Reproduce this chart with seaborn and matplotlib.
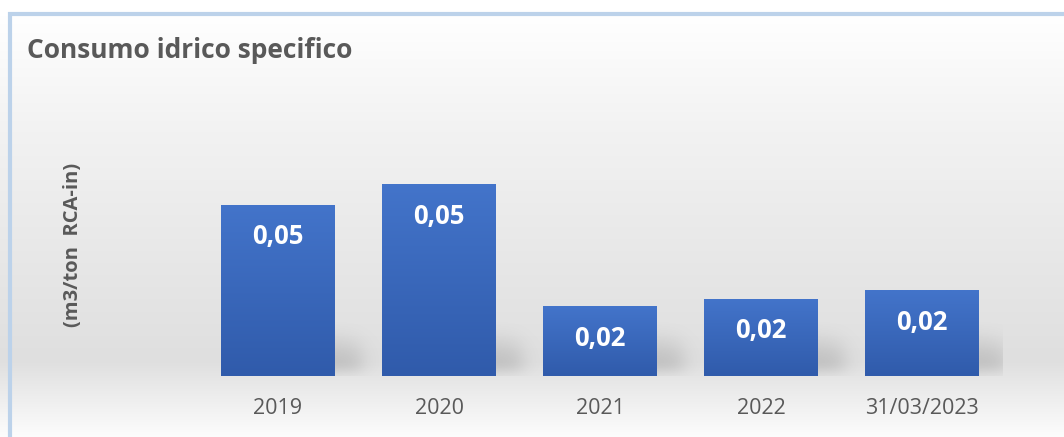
import numpy as np
import pandas as pd
import matplotlib
matplotlib.use("Agg")
import matplotlib.pyplot as plt
import seaborn as sns
from matplotlib.colors import to_rgb

# ---- data ----
categories = ["2019", "2020", "2021", "2022", "31/03/2023"]
values = [0.046, 0.0515, 0.0188, 0.0207, 0.0231]
title = "Consumo idrico specifico"
ylabel = "(m3/ton  RCA-in)"

sns.set_theme(style="white")
plt.rcParams['font.family'] = ['Open Sans', 'DejaVu Sans']

W, H = 1064, 437
fig = plt.figure(figsize=(W / 100, H / 100), dpi=100)
fig.patch.set_facecolor("white")

# ---- background gradient ----
bg = fig.add_axes([0, 0, 1, 1], zorder=0)
stops_y = np.array([0, 15, 120, 250, 360, 437])
stops_c = np.array([255, 255, 243, 232, 223, 253]) / 255.0
ys = np.arange(H)
g = np.interp(ys, stops_y, stops_c)
img = np.repeat(g[:, None], W, axis=1)
img = np.dstack([img, img, img])
bg.imshow(img, extent=[0, W, H, 0], aspect="auto", interpolation="bilinear")
bg.set_xlim(0, W); bg.set_ylim(H, 0)
bg.axis("off")
# border
border = "#bcd2ea"
bg.plot([9.5, 9.5], [12, H + 5], color=border, lw=3, solid_capstyle="butt")
bg.plot([8, W + 5], [13.5, 13.5], color=border, lw=3, solid_capstyle="butt")

# ---- main axes ----
left_px, right_px = 197.5, 1002.5
bottom_px = 376
ymax = 0.06
px_per_unit = 3720
top_px = bottom_px - ymax * px_per_unit
ax = fig.add_axes([left_px / W, (H - bottom_px) / H, (right_px - left_px) / W,
                   (bottom_px - top_px) / H], zorder=2)
ax.patch.set_alpha(0)

df = pd.DataFrame({"cat": categories, "val": values})
sns.barplot(data=df, x="cat", y="val", ax=ax, color="#3a67bb", width=0.708,
            saturation=1, linewidth=0, zorder=3)

xpx = (right_px - left_px) / 5.0  # pixels per x unit

top_c = np.array(to_rgb("#4374ca"))
bot_c = np.array(to_rgb("#305bab"))
sig = lambda d, s: 1 / (1 + np.exp(-d / s))
for p in list(ax.patches):
    x0 = p.get_x(); w = p.get_width(); h = p.get_height()
    x1 = x0 + w
    # soft shadow cast to the back-right
    sw_px, sh_px = 70, 60
    nx, ny = 200, 120
    ex0, ex1 = x1 - 20 / xpx, x1 + sw_px / xpx
    ey1 = sh_px / px_per_unit
    X, Y = np.meshgrid(np.linspace(ex0, ex1, nx), np.linspace(0, ey1, ny))
    dx = (X - x1) * xpx
    dy = Y * px_per_unit
    a = sig(26 - dx, 6) * sig(dy - 6, 4) * sig(44 - dy - dx * 0.2, 7)
    a = a * 0.38 * np.clip(1 - dy / 58, 0, 1)
    sh = np.zeros((ny, nx, 4)); sh[..., 0:3] = 0.45; sh[..., 3] = a
    ax.imshow(sh, extent=[ex0, ex1, 0, ey1], origin="lower", aspect="auto",
              zorder=1, interpolation="bilinear")
    # gradient fill
    t = np.linspace(0, 1, 64)[:, None]
    col = bot_c[None, :] * (1 - t) + top_c[None, :] * t
    grad = np.repeat(col[:, None, :], 2, axis=1)
    im = ax.imshow(grad, extent=[x0, x1, 0, h], origin="lower", aspect="auto",
                   zorder=3.5, interpolation="bilinear")
    im.set_clip_path(p)

for i, v in enumerate(values):
    ax.annotate(f"{v:.2f}".replace(".", ","), xy=(i, v), xytext=(0, -23),
                textcoords="offset points", ha="center", va="center",
                color="white", fontsize=18.5, fontweight="bold", zorder=5)

ax.set_xlim(-0.5, 4.5)
ax.set_ylim(0, ymax)
ax.set_yticks([])
ax.set_xlabel(""); ax.set_ylabel("")
for s in ax.spines.values():
    s.set_visible(False)
ax.tick_params(axis="x", length=0, pad=16, labelsize=15.5, labelcolor="#595959")

fig.text(27 / W, 1 - 51 / H, title, ha="left", va="center", fontsize=19,
         fontweight="bold", color="#595959")
fig.text(73 / W, 1 - 245 / H, ylabel, ha="center", va="center", rotation=90,
         fontsize=14.5, fontweight="bold", color="#595959")

fig.savefig("out.png", dpi=100)
